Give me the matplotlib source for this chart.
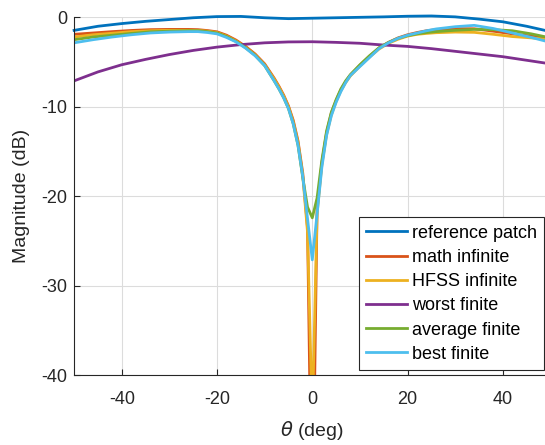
import matplotlib
matplotlib.use("Agg")
import matplotlib.pyplot as plt

theta = [-50, -46, -42, -38, -34, -30, -26, -24, -22, -20, -18, -16, -14, -12, -10, -8, -7, -6, -5, -4, -3, -2, -1, 0,
         1, 2, 3, 4, 5, 6, 7, 8, 10, 12, 14, 16, 18, 20, 22, 24, 26, 30, 34, 38, 42, 46, 50]

math_inf = [-1.9, -1.75, -1.6, -1.47, -1.38, -1.35, -1.35, -1.38, -1.48, -1.62, -2.0, -2.55, -3.25, -4.1, -5.2, -6.8, -7.7, -8.7, -9.9, -11.5, -13.8, -17.4, -23.5, -60,
            -21.5, -16.3, -12.9, -10.7, -9.3, -8.1, -7.2, -6.45, -5.35, -4.35, -3.45, -2.8, -2.3, -1.95, -1.7, -1.5, -1.38, -1.27, -1.28, -1.55, -1.85, -2.1, -2.4]
hfss_inf = [-2.2, -1.95, -1.78, -1.6, -1.5, -1.45, -1.45, -1.47, -1.55, -1.7, -2.1, -2.65, -3.35, -4.2, -5.3, -6.9, -7.8, -8.8, -10.0, -11.7, -14.0, -17.7, -24.0, -45,
            -22.0, -16.5, -13.1, -10.9, -9.4, -8.2, -7.3, -6.55, -5.45, -4.45, -3.55, -2.9, -2.45, -2.1, -1.9, -1.8, -1.72, -1.65, -1.68, -1.9, -2.15, -2.3, -2.5]
avg_fin = [-2.5, -2.2, -2.0, -1.8, -1.62, -1.55, -1.5, -1.5, -1.6, -1.75, -2.15, -2.7, -3.4, -4.25, -5.4, -7.1, -8.0, -9.0, -10.2, -11.9, -14.3, -17.9, -21.2, -22.4,
           -20.2, -16.0, -12.7, -10.6, -9.2, -8.0, -7.1, -6.4, -5.3, -4.3, -3.4, -2.8, -2.35, -2.05, -1.85, -1.7, -1.6, -1.45, -1.35, -1.38, -1.5, -1.85, -2.3]
best_fin = [-2.85, -2.5, -2.2, -1.95, -1.75, -1.65, -1.6, -1.6, -1.7, -1.85, -2.25, -2.75, -3.45, -4.3, -5.4, -7.1, -8.0, -9.0, -10.2, -11.9, -14.3, -17.8, -22.5, -27.1,
            -22.0, -16.8, -13.2, -11.0, -9.5, -8.3, -7.3, -6.5, -5.5, -4.5, -3.5, -2.85, -2.35, -2.0, -1.75, -1.5, -1.3, -1.05, -0.9, -1.25, -1.75, -2.25, -2.8]

theta_s = [-50, -45, -40, -35, -30, -25, -20, -15, -10, -5, 0, 5, 10, 15, 20, 25, 30, 35, 40, 45, 50]
ref_patch = [-1.46, -1.0, -0.7, -0.45, -0.25, -0.05, 0.08, 0.1, -0.05, -0.15, -0.1, -0.05, 0.0, 0.05, 0.12, 0.15, 0.05, -0.2, -0.5, -1.0, -1.6]
worst_fin = [-7.1, -6.1, -5.3, -4.7, -4.16, -3.7, -3.33, -3.05, -2.85, -2.75, -2.73, -2.8, -2.9, -3.1, -3.25, -3.5, -3.8, -4.1, -4.4, -4.8, -5.2]

plt.rcParams['font.family'] = ['Liberation Sans', 'DejaVu Sans']
plt.rcParams['axes.unicode_minus'] = False

fig = plt.figure(figsize=(5.45, 4.45), dpi=100)
ax = fig.add_axes([0.136, 0.1566, 0.874, 0.8045])

lw = 2.0
ax.plot(theta_s, ref_patch, color="#0072BD", lw=lw, label="reference patch", clip_on=False)
ax.plot(theta, math_inf, color="#D95319", lw=lw, label="math infinite")
ax.plot(theta, hfss_inf, color="#EDB120", lw=lw, label="HFSS infinite")
ax.plot(theta_s, worst_fin, color="#7E2F8E", lw=lw, label="worst finite")
ax.plot(theta, avg_fin, color="#77AC30", lw=lw, label="average finite")
ax.plot(theta, best_fin, color="#4DBEEE", lw=lw, label="best finite")

ax.set_xlim(-50, 50)
ax.set_ylim(-40, 0)
ax.set_xticks([-40, -20, 0, 20, 40])
ax.set_yticks([-40, -30, -20, -10, 0])
ax.grid(True, color="#dcdcdc", lw=0.8)
ax.set_axisbelow(True)
for s in ["top", "right"]:
    ax.spines[s].set_visible(False)
for s in ["left", "bottom"]:
    ax.spines[s].set_color("#262626")
ax.tick_params(direction="in", length=4, labelsize=13, colors="#262626")
ax.tick_params(axis="x", pad=11)
ax.tick_params(axis="y", pad=5)

ax.set_xlabel(r"$\theta$ (deg)", fontsize=14, color="#262626", labelpad=8)
ax.set_ylabel("Magnitude (dB)", fontsize=14, color="#262626", labelpad=8)

leg = ax.legend(loc="lower right", bbox_to_anchor=(544 / 545, 1 - 370 / 445),
                bbox_transform=fig.transFigure, borderaxespad=0, fontsize=13,
                fancybox=False, framealpha=1, edgecolor="#262626",
                handlelength=2.3, handletextpad=0.25, labelspacing=0.4,
                borderpad=0.4)
leg.get_frame().set_linewidth(0.8)

fig.savefig("out.png", dpi=100)
